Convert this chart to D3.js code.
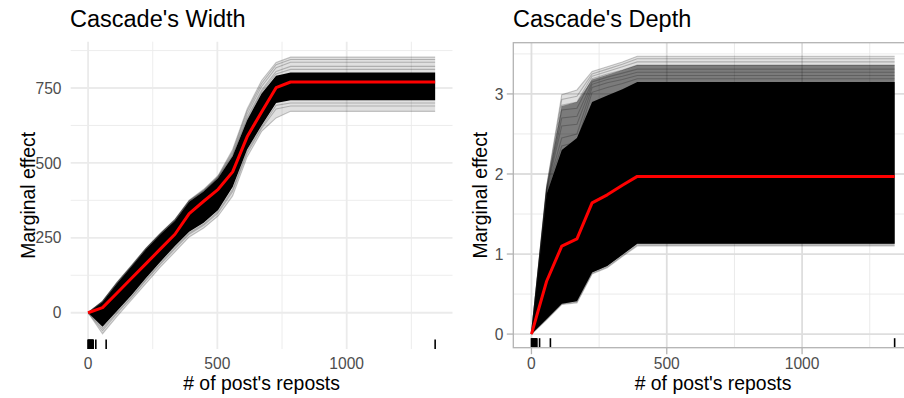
<!DOCTYPE html>
<html>
<head>
<meta charset="utf-8">
<script src="https://cdn.jsdelivr.net/npm/d3@7"></script>
<style>
  html, body { margin: 0; padding: 0; background: #fff; }
  svg { display: block; }
  text { font-family: "Liberation Sans", Arial, Helvetica, sans-serif; }
</style>
</head>
<body>
<svg id="chart" width="904" height="398"></svg>
<script>
// ---------------- data ----------------
const titles = ["Cascade's Width", "Cascade's Depth"];
const xTitle = "# of post's reposts";
const yTitle = "Marginal effect";
const xTicks = [0, 500, 1000];
const xMinorTicks = [250, 750, 1250];
const widthYTicks = [0, 250, 500, 750];
const widthYMinor = [125, 375, 625, 875];
const depthYTicks = [0, 1, 2, 3];
const depthYMinor = [0.5, 1.5, 2.5, 3.5];
const rugX = [0, 2, 4, 6, 8, 10, 12, 14, 16, 18, 20, 30, 70, 1342];

// Cascade's Width: grid of reposts and ICE summary curves
const widthX       = [0, 56, 112, 168, 224, 280, 336, 391, 447, 503, 559, 615, 671, 727, 783, 1342];
const widthMean    = [0, 17, 66, 115, 164, 213, 262, 331, 372, 412, 470, 587, 670, 751, 770, 770];
const widthCoreHi  = [0, 36, 98, 154, 212, 262, 307, 370, 405, 450, 522, 642, 732, 791, 802, 802];
const widthCoreLo  = [0, -47, 6, 58, 116, 170, 223, 270, 300, 343, 420, 545, 625, 700, 709, 709];
const widthOuterHi = [0, 39, 102, 158, 216, 266, 312, 376, 412, 458, 545, 680, 775, 835, 853, 853];
const widthOuterLo = [0, -70, -12, 43, 98, 153, 203, 253, 283, 323, 390, 520, 605, 650, 672, 672];
const widthFringe = [
  [0, 39, 102, 158, 216, 266, 312, 376, 412, 458, 545, 680, 775, 835, 853, 853],
  [0, 38, 101, 157, 215, 265, 311, 374, 409, 455, 538, 672, 765, 828, 845, 845],
  [0, 38, 100, 156, 214, 264, 310, 373, 407, 453, 532, 662, 755, 818, 836, 836],
  [0, 37, 99, 155, 213, 263, 309, 372, 406, 451, 526, 652, 742, 805, 822, 822],
  [0, 37, 99, 155, 213, 263, 308, 371, 406, 451, 524, 646, 736, 797, 812, 812],
  [0, -70, -12, 43, 98, 153, 203, 253, 283, 323, 390, 520, 605, 650, 672, 672],
  [0, -60, -2, 50, 108, 162, 213, 262, 292, 333, 405, 532, 615, 680, 690, 690],
  [0, -52, 2, 54, 112, 166, 218, 266, 296, 338, 412, 540, 620, 692, 700, 700]
];

// Cascade's Depth
const depthX       = [0, 56, 112, 168, 224, 280, 336, 391, 1342];
const depthMean    = [0, 0.66, 1.10, 1.19, 1.64, 1.74, 1.86, 1.97, 1.97];
const depthCoreHi  = [0, 1.75, 2.30, 2.45, 2.90, 2.98, 3.06, 3.15, 3.15];
const depthCoreLo  = [0, 0.19, 0.38, 0.41, 0.77, 0.85, 0.99, 1.13, 1.13];
const depthMidHi   = [0, 1.82, 2.85, 2.90, 3.18, 3.24, 3.30, 3.36, 3.36];
const depthOuterHi = [0, 1.85, 2.99, 3.05, 3.28, 3.34, 3.40, 3.47, 3.47];
const depthOuterLo = [0, 0.18, 0.37, 0.39, 0.75, 0.83, 0.97, 1.10, 1.10];
const depthFringe = [
  [0, 1.85, 2.99, 3.05, 3.28, 3.34, 3.40, 3.47, 3.47],
  [0, 1.84, 2.93, 2.97, 3.25, 3.31, 3.37, 3.44, 3.44],
  [0, 1.83, 2.86, 2.90, 3.22, 3.28, 3.34, 3.40, 3.40],
  [0, 1.82, 2.80, 2.82, 3.19, 3.25, 3.30, 3.36, 3.36],
  [0, 1.80, 2.70, 2.72, 3.15, 3.21, 3.26, 3.31, 3.31],
  [0, 1.79, 2.60, 2.62, 3.12, 3.18, 3.22, 3.27, 3.27],
  [0, 1.78, 2.45, 2.50, 3.08, 3.14, 3.18, 3.23, 3.23],
  [0, 1.76, 2.35, 2.40, 3.02, 3.08, 3.13, 3.19, 3.19],
  [0, 0.18, 0.37, 0.39, 0.75, 0.83, 0.97, 1.10, 1.10],
  [0, 0.185, 0.375, 0.40, 0.76, 0.84, 0.98, 1.115, 1.115]
];

// ---------------- drawing ----------------
const svg = d3.select("#chart");
const FONT_TICK = 15.6, FONT_AXIS = 19.4, FONT_TITLE = 23.5;

function panel(opts) {
  const { left, right, top, bottom, xDomain, yDomain, yTicks, yMinor, framed, gridMajor, gridMinor,
          xs, mean, coreHi, coreLo, outerHi, outerLo, midHi, fringe, title, titleX, yLabelX, yTitleX, id } = opts;
  const x = d3.scaleLinear().domain(xDomain).range([left, right]);
  const y = d3.scaleLinear().domain(yDomain).range([bottom, top]);
  const g = svg.append("g");

  g.append("clipPath").attr("id", "clip" + id)
    .append("rect").attr("x", left).attr("y", top).attr("width", right - left).attr("height", bottom - top);

  // grid
  const grid = g.append("g");
  grid.selectAll(".ymin").data(yMinor).join("line")
    .attr("x1", left).attr("x2", right).attr("y1", d => y(d)).attr("y2", d => y(d))
    .attr("stroke", gridMinor).attr("stroke-width", 0.9);
  grid.selectAll(".xmin").data(xMinorTicks).join("line")
    .attr("y1", top).attr("y2", bottom).attr("x1", d => x(d)).attr("x2", d => x(d))
    .attr("stroke", gridMinor).attr("stroke-width", 0.9);
  grid.selectAll(".ymaj").data(yTicks).join("line")
    .attr("x1", left).attr("x2", right).attr("y1", d => y(d)).attr("y2", d => y(d))
    .attr("stroke", gridMajor).attr("stroke-width", 1.8);
  grid.selectAll(".xmaj").data(xTicks).join("line")
    .attr("y1", top).attr("y2", bottom).attr("x1", d => x(d)).attr("x2", d => x(d))
    .attr("stroke", gridMajor).attr("stroke-width", 1.8);

  const data = g.append("g").attr("clip-path", `url(#clip${id})`);
  const area = (hi, lo) => d3.area().x((d, i) => x(xs[i])).y0((d, i) => y(lo[i])).y1((d, i) => y(hi[i]))(xs);
  const line = arr => d3.line().x((d, i) => x(xs[i])).y(d => y(d))(arr);

  data.append("path").attr("d", area(outerHi, outerLo)).attr("fill", "#000").attr("fill-opacity", 0.12);
  if (midHi) data.append("path").attr("d", area(midHi, coreLo)).attr("fill", "#000").attr("fill-opacity", 0.45);
  data.selectAll(".ice").data(fringe).join("path")
    .attr("d", d => line(d)).attr("fill", "none").attr("stroke", "#000")
    .attr("stroke-opacity", 0.22).attr("stroke-width", 1.1);
  data.append("path").attr("d", area(coreHi, coreLo)).attr("fill", "#000");
  data.append("path").attr("d", line(mean)).attr("fill", "none")
    .attr("stroke", "#ff0000").attr("stroke-width", 3).attr("stroke-linejoin", "round");

  // rug
  g.selectAll(".rug").data(rugX).join("line")
    .attr("x1", d => x(d)).attr("x2", d => x(d))
    .attr("y1", bottom).attr("y2", bottom - 9.5)
    .attr("stroke", "#000").attr("stroke-width", 1.6);

  if (framed) {
    g.append("rect").attr("x", left).attr("y", top).attr("width", right - left).attr("height", bottom - top)
      .attr("fill", "none").attr("stroke", "#b3b3b3").attr("stroke-width", 1.3);
    g.selectAll(".ytk").data(yTicks).join("line")
      .attr("x1", left - 6.5).attr("x2", left).attr("y1", d => y(d)).attr("y2", d => y(d))
      .attr("stroke", "#b3b3b3").attr("stroke-width", 1.3);
    g.selectAll(".xtk").data(xTicks).join("line")
      .attr("y1", bottom).attr("y2", bottom + 6.5).attr("x1", d => x(d)).attr("x2", d => x(d))
      .attr("stroke", "#b3b3b3").attr("stroke-width", 1.3);
  }

  // tick labels
  g.selectAll(".yl").data(yTicks).join("text")
    .attr("x", yLabelX).attr("y", d => y(d)).attr("dy", "0.36em")
    .attr("text-anchor", "end").attr("font-size", FONT_TICK).attr("fill", "#4d4d4d")
    .text(d => d);
  g.selectAll(".xl").data(xTicks).join("text")
    .attr("x", d => x(d)).attr("y", 368.8)
    .attr("text-anchor", "middle").attr("font-size", FONT_TICK).attr("fill", "#4d4d4d")
    .text(d => d);

  // titles
  g.append("text").attr("x", (left + right) / 2).attr("y", 390.3)
    .attr("text-anchor", "middle").attr("font-size", FONT_AXIS).attr("fill", "#000").text(xTitle);
  g.append("text").attr("transform", `translate(${yTitleX},${(top + bottom) / 2}) rotate(-90)`)
    .attr("text-anchor", "middle").attr("font-size", FONT_AXIS).attr("fill", "#000").text(yTitle);
  g.append("text").attr("x", titleX).attr("y", 27)
    .attr("font-size", FONT_TITLE).attr("fill", "#000").text(title);
}

panel({
  id: 1, left: 70.7, right: 452.5, top: 41.7, bottom: 349,
  xDomain: [-67.1, 1409.1], yDomain: [-121, 904.5],
  yTicks: widthYTicks, yMinor: widthYMinor, framed: false,
  gridMajor: "#ebebeb", gridMinor: "#ebebeb",
  xs: widthX, mean: widthMean, coreHi: widthCoreHi, coreLo: widthCoreLo,
  outerHi: widthOuterHi, outerLo: widthOuterLo, midHi: null, fringe: widthFringe,
  title: titles[0], titleX: 70, yLabelX: 61.5, yTitleX: 34.5
});

panel({
  id: 2, left: 513.3, right: 912.8, top: 42.7, bottom: 347.7,
  xDomain: [-67.1, 1409.1], yDomain: [-0.17, 3.64],
  yTicks: depthYTicks, yMinor: depthYMinor, framed: true,
  gridMajor: "#dedede", gridMinor: "#e8e8e8",
  xs: depthX, mean: depthMean, coreHi: depthCoreHi, coreLo: depthCoreLo,
  outerHi: depthOuterHi, outerLo: depthOuterLo, midHi: depthMidHi, fringe: depthFringe,
  title: titles[1], titleX: 513, yLabelX: 503.5, yTitleX: 486.5
});
</script>
</body>
</html>
